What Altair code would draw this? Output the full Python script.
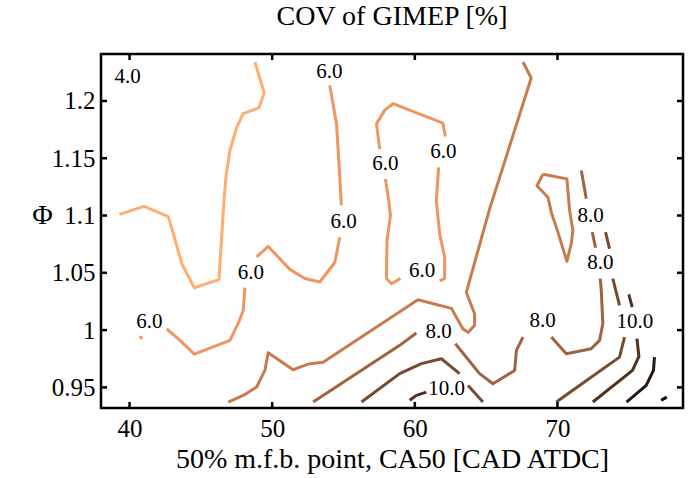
import altair as alt
import pandas as pd

# ---- contour polylines (CA50 [CAD ATDC], Phi) ----
A5_x = [39.29, 41.02, 42.72, 43.33, 43.66, 44.54, 46.27, 46.62, 46.76, 47.04, 47.51, 47.97, 49.07, 49.44, 48.79]
A5_y = [1.101, 1.108, 1.099, 1.073, 1.058, 1.037, 1.044, 1.113, 1.134, 1.157, 1.177, 1.189, 1.194, 1.207, 1.234]

B1_x = [40.77, 40.83]
B1_y = [0.995, 0.992]
B2_x = [42.61, 43.54, 44.54, 47.04, 47.62, 47.97, 48.09]
B2_y = [1.001, 0.991, 0.979, 0.991, 1.006, 1.017, 1.037]
B3_x = [48.91, 49.72, 51.24, 52.29, 53.34, 54.39, 54.74]
B3_y = [1.064, 1.073, 1.053, 1.045, 1.042, 1.059, 1.081]
B4_x = [54.85, 54.67, 54.51, 54.04]
B4_y = [1.109, 1.148, 1.180, 1.2135]
C1_x = [58.99, 58.36, 58.01, 58.05, 58.29, 58.17, 57.94]
C1_y = [1.045, 1.0405, 1.045, 1.078, 1.100, 1.113, 1.132]
C2_x = [57.54, 57.31, 57.89, 58.47, 61.97, 62.14]
C2_y = [1.158, 1.180, 1.192, 1.1976, 1.1806, 1.169]
C3_x = [61.67, 61.51, 61.74, 62.09, 62.09, 61.74]
C3_y = [1.142, 1.113, 1.084, 1.064, 1.045, 1.043]

E7_x = [67.58, 68.16, 65.25, 63.61, 64.19, 64.19, 63.73, 63.38, 62.56, 60.22, 53.57, 52.64, 51.94, 51.47, 49.72, 49.49, 48.91, 47.97, 46.92]
E7_y = [1.234, 1.220, 1.106, 1.033, 1.0143, 1.004, 0.998, 1.001, 1.019, 1.0265, 0.972, 0.9707, 0.9677, 0.9654, 0.9803, 0.9648, 0.9503, 0.943, 0.9372]
G7_x = [68.98, 70.66, 70.85, 71.08, 70.97, 70.66, 70.03, 69.57, 69.33, 68.56, 68.98]
G7_y = [1.136, 1.132, 1.1045, 1.087, 1.0754, 1.060, 1.0855, 1.1027, 1.116, 1.126, 1.136]

F1_x = [52.87, 58.94, 60.11]
F1_y = [0.9372, 0.9867, 0.9974]
F2_x = [62.84, 64.54, 65.48, 67.0, 67.12, 67.58]
F2_y = [0.9881, 0.962, 0.9532, 0.9648, 0.9823, 0.9939]
F3_x = [69.57, 70.62, 72.37, 72.95, 73.18, 73.07, 73.0]
F3_y = [0.9939, 0.9794, 0.9838, 0.991, 1.0056, 1.0346, 1.0449]
F4_x = [72.67, 72.44]
F4_y = [1.0719, 1.0855]
F5_x = [72.02, 71.67]
F5_y = [1.1147, 1.1394]

I1_x = [56.26, 58.94, 60.46, 61.86, 63.14]
I1_y = [0.9372, 0.962, 0.9707, 0.975, 0.962]
I2_x = [63.73, 64.78]
I2_y = [0.9517, 0.9372]
I3_x = [69.92, 70.73, 74.35, 74.70]
I3_y = [0.9372, 0.9445, 0.9764, 0.9939]
I4_x = [74.35, 73.88]
I4_y = [1.0216, 1.0449]
I5_x = [73.65, 73.37]
I5_y = [1.071, 1.0855]

J1_x = [59.64, 60.11, 60.81]
J1_y = [0.9387, 0.943, 0.9459]
J2_x = [72.48, 75.26, 75.71, 75.57]
J2_y = [0.9372, 0.9648, 0.977, 0.9925]
J3_x = [75.24, 75.0]
J3_y = [1.020, 1.0312]

K11_x = [74.84, 76.22, 76.73, 76.80]
K11_y = [0.9372, 0.9517, 0.9648, 0.9764]
L12_x = [77.27, 77.66]
L12_y = [0.9387, 0.9415]

# contour labels
lab_x = [39.87, 54.01, 57.93, 62.0, 55.0, 60.52, 48.51, 41.39, 61.66, 62.23, 68.96, 72.32, 73.0, 75.42]
lab_y = [1.221, 1.2253, 1.1446, 1.1553, 1.094, 1.0512, 1.0499, 1.0067, 0.9986, 0.9489, 1.008, 1.100, 1.0584, 1.007]
lab_t = ["4.0", "6.0", "6.0", "6.0", "6.0", "6.0", "6.0", "6.0", "8.0", "10.0", "8.0", "8.0", "8.0", "10.0"]

levels = [5, 6, 7, 8, 9, 10, 11, 12]
level_colors = ["#FFAE6F", "#EF955F", "#C77C4F", "#9F643F", "#784B30", "#50321F", "#281910", "#000000"]

x_ticks = [40, 50, 60, 70]
y_ticks = [0.95, 1.0, 1.05, 1.1, 1.15, 1.2]

segments = [
    ("A5", 5, A5_x, A5_y),
    ("B1", 6, B1_x, B1_y), ("B2", 6, B2_x, B2_y), ("B3", 6, B3_x, B3_y), ("B4", 6, B4_x, B4_y),
    ("C1", 6, C1_x, C1_y), ("C2", 6, C2_x, C2_y), ("C3", 6, C3_x, C3_y),
    ("E7", 7, E7_x, E7_y), ("G7", 7, G7_x, G7_y),
    ("F1", 8, F1_x, F1_y), ("F2", 8, F2_x, F2_y), ("F3", 8, F3_x, F3_y), ("F4", 8, F4_x, F4_y), ("F5", 8, F5_x, F5_y),
    ("I1", 9, I1_x, I1_y), ("I2", 9, I2_x, I2_y), ("I3", 9, I3_x, I3_y), ("I4", 9, I4_x, I4_y), ("I5", 9, I5_x, I5_y),
    ("J1", 10, J1_x, J1_y), ("J2", 10, J2_x, J2_y), ("J3", 10, J3_x, J3_y),
    ("K11", 11, K11_x, K11_y), ("L12", 12, L12_x, L12_y),
]

rows = []
for name, lev, xs, ys in segments:
    for i, (xv, yv) in enumerate(zip(xs, ys)):
        rows.append({"seg": name, "level": lev, "i": i, "x": xv, "y": yv})
lines_df = pd.DataFrame(rows)
labels_df = pd.DataFrame({"x": lab_x, "y": lab_y, "t": lab_t})
xt_df = pd.DataFrame({"v": x_ticks})
yt_df = pd.DataFrame({"v": y_ticks})

W, H = 582, 354
FONT = "Liberation Serif"

xscale = alt.Scale(domain=[38.0, 78.8], nice=False, zero=False)
yscale = alt.Scale(domain=[0.932, 1.241], nice=False, zero=False)

xaxis = alt.Axis(values=x_ticks, ticks=False, domain=False, grid=False, labelFont=FONT,
                 labelFontSize=25, labelColor="black", labelPadding=8,
                 title="50% m.f.b. point, CA50 [CAD ATDC]", titleFont=FONT, titleFontSize=28,
                 titleFontWeight="normal", titleColor="black", titlePadding=4)
yaxis = alt.Axis(values=y_ticks, format="~g", ticks=False, domain=False, grid=False, labelFont=FONT,
                 labelFontSize=25, labelColor="black", labelPadding=6,
                 title="Φ", titleFont=FONT, titleFontSize=28, titleFontWeight="normal",
                 titleColor="black", titleAngle=0, titleX=-59, titleY=161,
                 titleAlign="center", titleBaseline="middle")

lines = alt.Chart(lines_df).mark_line(strokeWidth=3, strokeJoin="round", clip=True).encode(
    x=alt.X("x:Q", scale=xscale, axis=xaxis),
    y=alt.Y("y:Q", scale=yscale, axis=yaxis),
    detail="seg:N",
    order="i:Q",
    color=alt.Color("level:O", scale=alt.Scale(domain=levels, range=level_colors), legend=None),
)

texts = alt.Chart(labels_df).mark_text(font=FONT, fontSize=21, color="black", baseline="middle", align="center").encode(
    x=alt.X("x:Q", scale=xscale),
    y=alt.Y("y:Q", scale=yscale),
    text="t:N",
)

tk = dict(color="black", strokeWidth=2.5)
tick_bottom = alt.Chart(xt_df).mark_rule(**tk).encode(x=alt.X("v:Q", scale=xscale), y=alt.value(H), y2=alt.value(H - 6))
tick_top = alt.Chart(xt_df).mark_rule(**tk).encode(x=alt.X("v:Q", scale=xscale), y=alt.value(0), y2=alt.value(6))
tick_left = alt.Chart(yt_df).mark_rule(**tk).encode(y=alt.Y("v:Q", scale=yscale), x=alt.value(0), x2=alt.value(6))
tick_right = alt.Chart(yt_df).mark_rule(**tk).encode(y=alt.Y("v:Q", scale=yscale), x=alt.value(W), x2=alt.value(W - 6))

chart = alt.layer(lines, texts, tick_bottom, tick_top, tick_left, tick_right).properties(
    width=W, height=H,
    title=alt.TitleParams("COV of GIMEP [%]", font=FONT, fontSize=28, fontWeight="normal",
                          color="black", anchor="middle", offset=22),
    autosize=alt.AutoSizeParams(type="none"),
    padding={"left": 101, "top": 54, "right": 11, "bottom": 70},
    background="white",
).configure_view(stroke="black", strokeWidth=2.5)

chart.save("out.html", embed_options={"renderer": "svg", "actions": False})
